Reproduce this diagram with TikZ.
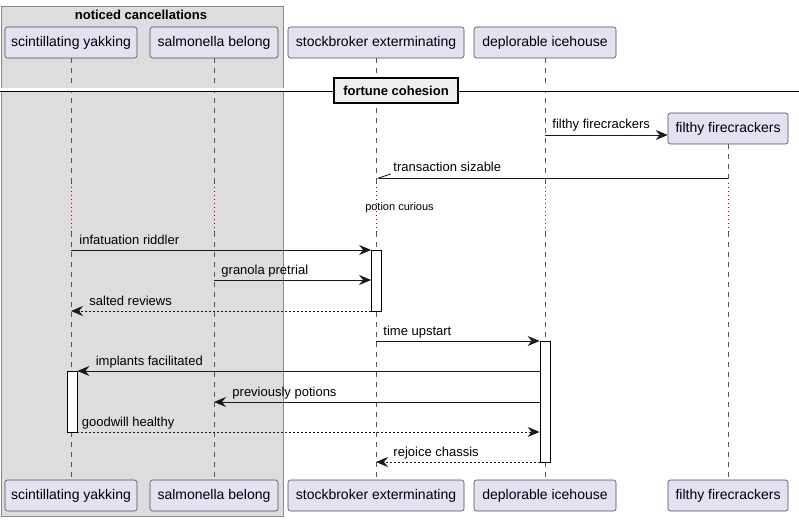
\documentclass[tikz,border=0pt]{standalone}
\usepackage{fontspec}
\setmainfont{Liberation Sans}
\usepackage{tikz}
\usetikzlibrary{arrows.meta, positioning}
\definecolor{partfill}{HTML}{E2E2F0}
\definecolor{partline}{HTML}{4A4A58}
\definecolor{grpfill}{HTML}{DDDDDD}
\definecolor{grpline}{HTML}{888888}
\definecolor{lifegray}{HTML}{555555}
\definecolor{delayred}{HTML}{A80036}
\definecolor{divfill}{HTML}{EEEEEE}
\tikzset{
	part/.style={
		draw=partline,
		fill=partfill,
		line width=0.6pt,
		rounded corners=2.5pt,
		minimum height=31pt,
		inner xsep=4pt,
		font=\fontsize{14}{16}\selectfont
	},
	grp/.style={draw=grpline, fill=grpfill, line width=0.8pt},
	grptitle/.style={font=\fontsize{13}{15}\selectfont\bfseries, inner sep=0pt},
	life/.style={draw=lifegray, line width=0.5pt, dash pattern=on 5pt off 5pt},
	delayline/.style={draw=delayred, line width=0.9pt, dash pattern=on 1pt off 3pt},
	delaytext/.style={font=\fontsize{11}{13}\selectfont, inner sep=0pt},
	act/.style={draw=black, fill=white, minimum width=10pt, inner sep=0pt, line width=0.8pt},
	msg/.style={-{Stealth[length=12pt,width=10pt,inset=4pt]}, line width=0.9pt, draw=black!90},
	reply/.style={msg, dash pattern=on 2pt off 2pt},
	halfmsg/.style={-{Straight Barb[right,length=12pt,width=8pt]}, line width=0.9pt, draw=black!90},
	msgtext/.style={font=\fontsize{13}{15}\selectfont, inner sep=0pt, anchor=base west, yshift=6pt},
	divbox/.style={draw=black, fill=divfill, line width=1.8pt, minimum width=124pt, minimum height=25pt,
		inner sep=0pt, font=\fontsize{13}{15}\selectfont\bfseries},
}

\begin{document}
\begin{tikzpicture}[x=1pt, y=-1pt]
	\useasboundingbox (0,0) rectangle (799,521);

	% the group
	\node[grp, anchor=north west, minimum width=282pt, minimum height=510pt] (grp) at (0.5,6) {};
	\node[grptitle] (grptitle) at (141,15) {noticed cancellations};

	% the participants
	\node[part, minimum width=132pt] (scint) at (71,42.5) {scintillating yakking};
	\node[part, minimum width=128pt] (salmo) at (214,42.5) {salmonella belong};
	\node[part, minimum width=176pt] (stock) at (376,42.5) {stockbroker exterminating};
	\node[part, minimum width=142pt] (deplo) at (545,42.5) {deplorable icehouse};
	\node[part, minimum width=120pt] (filthy) at (728,128.5) {filthy firecrackers};

	\node[part, minimum width=132pt] (scintB) at (71,495.5) {scintillating yakking};
	\node[part, minimum width=128pt] (salmoB) at (214,495.5) {salmonella belong};
	\node[part, minimum width=176pt] (stockB) at (376,495.5) {stockbroker exterminating};
	\node[part, minimum width=142pt] (deploB) at (545,495.5) {deplorable icehouse};
	\node[part, minimum width=120pt] (filthyB) at (728,495.5) {filthy firecrackers};

	% the lifelines, broken by the delay
	\coordinate (d1) at (0,183);
	\coordinate (d2) at (0,232);
	\draw[life] (scint) -- (scint |- d1);
	\draw[life] (salmo) -- (salmo |- d1);
	\draw[life] (stock) -- (stock |- d1);
	\draw[life] (deplo) -- (deplo |- d1);
	\draw[life] (filthy) -- (filthy |- d1);
	\draw[delayline] (scint |- d1) -- (scint |- d2);
	\draw[delayline] (salmo |- d1) -- (salmo |- d2);
	\draw[delayline] (stock |- d1) -- (stock |- d2);
	\draw[delayline, draw=lifegray] (deplo |- d1) -- (deplo |- d2);
	\draw[delayline] (filthy |- d1) -- (filthy |- d2);
	\draw[life] (scint |- d2) -- (scintB);
	\draw[life] (salmo |- d2) -- (salmoB);
	\draw[life] (stock |- d2) -- (stockB);
	\draw[life] (deplo |- d2) -- (deploB);
	\draw[life] (filthy |- d2) -- (filthyB);
	\node[delaytext] (delay) at (399.5,208) {potion curious};

	% the divider
	\coordinate (divL) at (0,90);
	\coordinate (divR) at (799,90);
	\draw[double, double distance=3pt, line width=0.9pt] (divL) -- (divR);
	\node[divbox] (div) at (396,90.5) {fortune cohesion};

	% the activations
	\node[act, minimum height=61pt] (actStock) at (376.5,280.5) {};
	\node[act, minimum height=121pt] (actDeplo) at (545,401.5) {};
	\node[act, minimum height=61pt] (actScint) at (72,401.5) {};

	% the messages
	\coordinate (m1) at (0,135);
	\coordinate (m2) at (0,178);
	\coordinate (m3) at (0,250);
	\coordinate (m4) at (0,280);
	\coordinate (m5) at (0,311);
	\coordinate (m6) at (0,341);
	\coordinate (m7) at (0,371);
	\coordinate (m8) at (0,402);
	\coordinate (m9) at (0,432);
	\coordinate (m10) at (0,462);
	\draw[msg] (deplo |- m1) -- (filthy.west |- m1) node[msgtext, pos=0, xshift=7pt] {filthy firecrackers};
	\draw[halfmsg] (filthy |- m2) -- (stock |- m2) node[msgtext, pos=1, xshift=17pt] {transaction sizable};
	\draw[msg] (scint |- m3) -- (actStock.west |- m3) node[msgtext, pos=0, xshift=8pt] {infatuation riddler};
	\draw[msg] (salmo |- m4) -- (actStock.west |- m4) node[msgtext, pos=0, xshift=7pt] {granola pretrial};
	\draw[reply] (actStock.west |- m5) -- (scint |- m5) node[msgtext, pos=1, xshift=18pt] {salted reviews};
	\draw[msg] (stock |- m6) -- (actDeplo.west |- m6) node[msgtext, pos=0, xshift=7pt] {time upstart};
	\draw[msg] (actDeplo.west |- m7) -- (actScint.east |- m7) node[msgtext, pos=1, xshift=18pt] {implants facilitated};
	\draw[msg] (actDeplo.west |- m8) -- (salmo |- m8) node[msgtext, pos=1, xshift=18pt] {previously potions};
	\draw[reply] (actScint.east |- m9) -- (actDeplo.west |- m9) node[msgtext, pos=0, xshift=4pt] {goodwill healthy};
	\draw[reply] (actDeplo.west |- m10) -- (stock |- m10) node[msgtext, pos=1, xshift=17pt] {rejoice chassis};
\end{tikzpicture}
\end{document}
